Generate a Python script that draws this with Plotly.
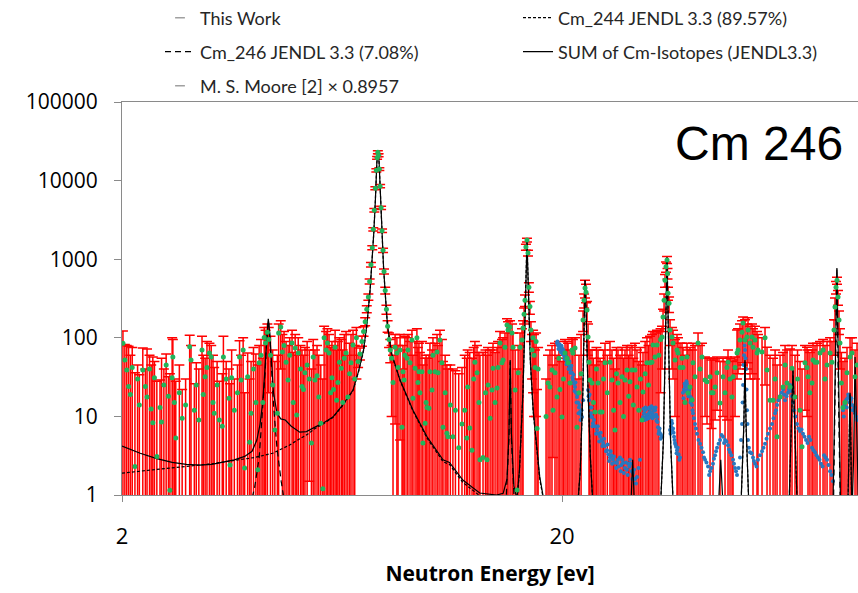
import math
import plotly.graph_objects as go

# ---------------- This Work (value, upper end of error bar, lower end; 0 = bar runs to axis) -------------
tw_energy = [
    2.01, 2.03, 2.05, 2.07, 2.09, 2.11, 2.14, 2.17, 2.19, 2.23,
    2.26, 2.28, 2.31, 2.33, 2.35, 2.37, 2.40, 2.44, 2.46, 2.49,
    2.52, 2.55, 2.57, 2.60, 2.61, 2.63, 2.65, 2.70, 2.74, 2.79,
    2.85, 2.87, 2.92, 2.95, 2.99, 3.04, 3.06, 3.09, 3.12, 3.16,
    3.19, 3.22, 3.24, 3.29, 3.33, 3.38, 3.40, 3.45, 3.50, 3.52,
    3.55, 3.60, 3.66, 3.70, 3.73, 3.77, 3.80, 3.86, 3.90, 3.93,
    3.98, 4.03, 4.07, 4.10, 4.14, 4.18, 4.21, 4.24,
    4.28, 4.31, 4.35, 4.40, 4.45, 4.51, 4.54, 4.59, 4.63, 4.67,
    4.72, 4.77, 4.81, 4.87, 4.90, 4.95, 4.99, 5.03, 5.09, 5.13,
    5.17, 5.21, 5.27, 5.33, 5.39, 5.44, 5.49, 5.55, 5.60, 5.66,
    5.72, 5.76, 5.82, 5.86, 5.91, 5.96, 6.00, 6.05, 6.10, 6.15,
    6.19, 6.24, 6.30, 6.35, 6.40, 6.46, 6.52, 6.58, 6.63, 6.70,
    6.76, 6.82,
    6.88, 6.95, 7.02, 7.08, 7.14, 7.20, 7.26, 7.31, 7.36, 7.41,
    7.45, 7.49, 7.53, 7.57, 7.60, 7.63, 7.66, 7.69, 7.72, 7.76,
    7.80, 7.84, 7.88, 7.93, 7.98, 8.03, 8.09, 8.14, 8.20,
    8.26, 8.35, 8.43, 8.48, 8.57, 8.66, 8.70, 8.75, 8.79, 8.89,
    8.93, 9.03, 9.12, 9.17, 9.27, 9.36, 9.41, 9.46, 9.51, 9.61,
    9.66, 9.77, 9.82, 9.87, 9.97, 10.02, 10.13, 10.18, 10.29, 10.40,
    10.45, 10.56, 10.67, 10.73, 10.85, 10.95, 11.01, 11.15, 11.30, 11.45,
    11.65, 11.85, 12.02, 12.15, 12.21, 12.34, 12.49, 12.60, 12.68, 12.82,
    12.95, 13.02, 13.23, 13.40, 13.51, 13.58, 13.73, 13.87, 13.94, 14.09,
    14.24, 14.31, 14.46, 14.61, 14.69, 14.84, 15.00, 15.08, 15.24, 15.40,
    15.48, 15.65, 15.81, 15.90, 16.06, 16.22, 16.31,
    16.40, 16.48, 16.56, 16.65, 16.74, 16.82, 16.91, 17.00, 17.10, 17.19,
    17.28, 17.37, 17.46, 17.55, 17.65,
    18.40, 18.59, 18.78, 18.98, 19.08, 19.28, 19.48, 19.68, 19.79, 20.00,
    20.15, 20.32, 20.53, 20.64, 20.85, 21.07, 21.18, 21.41, 21.63, 21.86,
    22.10,
    22.33, 22.45, 22.56, 22.68, 22.80, 22.92, 23.04, 23.16, 23.40,
    23.58, 23.77, 23.95, 24.15, 24.41, 24.66, 24.85, 25.05, 25.35, 25.71,
    25.98, 26.20, 26.39, 26.60, 26.81, 27.10, 27.38, 27.60, 27.81, 28.10,
    28.35, 28.55, 28.85, 29.05, 29.30, 29.61, 29.90, 30.15, 30.40, 30.56,
    30.90, 31.20, 31.45, 31.70, 32.03, 32.20, 32.54, 32.88, 33.20, 33.50,
    33.76, 33.94,
    34.12, 34.29, 34.47, 34.65, 34.74, 34.83, 35.02, 35.20, 35.57, 35.76,
    36.13, 36.51, 36.70, 37.09,
    37.48, 37.67, 38.07, 38.47, 38.67, 39.08, 39.50, 39.70, 40.12, 40.76,
    41.19, 41.62, 42.28, 42.72, 43.40, 43.74, 44.08, 44.55, 45.02, 45.73,
    46.45, 46.94, 47.43, 47.68, 48.18, 48.69, 48.95, 49.46, 49.98, 50.25,
    50.77, 51.31, 51.58, 52.12, 52.67, 52.94, 53.50, 54.06, 54.34, 54.91,
    55.49, 55.78, 56.97, 57.87, 58.48, 59.40, 60.35, 61.00, 61.63, 62.60,
    63.59, 64.26, 64.93, 65.96, 66.65, 67.70, 68.60, 69.50, 70.23, 71.34,
    72.09, 72.47, 73.20, 74.00, 74.39, 75.17, 75.96, 77.17, 78.40, 79.20,
    80.06, 81.33, 82.16,
    83.03, 83.46, 83.90, 84.34, 84.78, 85.23, 85.67, 86.30, 87.03, 87.94,
    88.87, 90.30, 91.23, 92.69, 93.66,
]
tw_value = [
    85, 52, 39, 24, 19, 42, 2.3, 30, 14, 39,
    24, 17.6, 40, 12.4, 8.3, 31, 3.1, 13, 8.5, 25,
    45, 18, 1.15, 31, 57, 15, 5.3, 20, 9.5, 14,
    77, 52, 12, 25, 9, 70, 19, 32, 42, 64,
    57, 15, 11, 25, 9, 7.5, 57, 30, 17, 2.4,
    31, 12, 20, 57, 29, 70, 2.2, 32, 4.7, 11,
    40, 15, 2.1, 48, 60, 15, 101, 86,
    118, 95, 60, 25, 6.7, 11, 115, 137, 66, 80,
    49, 29, 60, 86, 15, 74, 10.4, 64, 40, 24,
    22, 36, 45, 30, 4.6, 57, 29, 33, 17.6, 8.2,
    1.2, 100, 70, 86, 64, 20, 31, 22, 76, 16,
    27, 49, 41, 15, 55, 64, 17.6, 35, 48, 81,
    30, 100,
    50, 62, 90, 120, 160, 230, 330, 520, 850, 1400,
    2400, 4200, 8000, 13500, 19500, 23000, 21000, 14000, 8500, 4500,
    2300, 1300, 700, 400, 230, 140, 95, 70, 55,
    27, 76, 64, 42, 70, 7.3, 37, 29, 60, 55,
    70, 48, 94, 17, 41, 100, 27, 37, 20, 37,
    4.6, 8.2, 15, 13, 12.7, 37, 21.7, 60, 37, 66,
    36, 94, 48, 7.3, 20, 6.1, 5.5, 14, 5.5, 12,
    4, 8, 12, 5.3, 23.6, 7.1, 3.7, 30, 49, 36,
    15, 2.8, 3.0, 20, 2.8, 25, 9.5, 21.7, 41, 15,
    23, 42, 86, 48, 52, 76, 145, 126, 137, 115,
    76, 21.7, 1.16, 36, 76, 94, 133,
    200, 300, 1430, 1750, 1200, 440, 250, 126, 70, 100,
    60, 42, 90, 7, 40,
    10, 26.6, 23.6, 39, 12, 36, 17.6, 55, 22, 9.8,
    30, 64, 55, 48, 26.6, 70, 64, 74, 7.3, 20,
    35,
    168, 300, 430, 380, 226, 102, 49, 29, 26.6,
    15, 11.4, 40, 26.6, 11.4, 11.4, 30, 48, 20, 49,
    29, 12, 6.7, 35, 26.6, 15, 32, 10, 29, 39,
    18, 27.5, 39, 14, 39, 23.6, 12, 30, 9, 20.5,
    35, 48, 25, 48, 49, 81, 57, 81, 60, 95,
    102, 184,
    300, 540, 800, 980, 660, 370, 275, 126, 102, 86,
    52, 70, 64, 42,
    55, 42, 15, 57, 19.8, 23.6, 16.2, 48, 32, 86,
    40, 57, 29, 27.5, 32, 20, 20, 23.6, 36, 14.8,
    32, 20, 42, 49, 30, 17.6, 32, 42, 64, 70,
    94, 118, 154, 94, 102, 126, 86, 102, 76, 94,
    64, 70, 66, 100, 39, 16, 16, 30, 5.5, 17.6,
    23.6, 45, 26.6, 23.6, 41, 17.6, 30, 12, 4.1, 48,
    42, 32, 20, 26.6, 52, 49, 49, 64, 70, 30,
    45, 64, 49,
    126, 246, 440, 540, 330, 168, 86, 26.6, 13, 15,
    36, 57, 64, 32, 45,
]
tw_upper = [
    122, 82, 80, 78, 60, 75, 36, 45, 34, 74,
    40, 72, 60, 45, 57, 50, 28, 29, 55, 40,
    62, 32, 35, 100, 95, 30, 28, 45, 22, 30,
    108, 80, 26, 48, 40, 105, 60, 55, 90, 85,
    80, 60, 42, 50, 28, 35, 105, 50, 40, 26,
    70, 30, 45, 92, 60, 100, 20, 64, 30, 50,
    75, 62, 45, 80, 95, 55, 135, 125,
    150, 135, 105, 70, 50, 60, 150, 165, 110, 120,
    90, 80, 100, 125, 65, 110, 60, 100, 80, 70,
    60, 75, 90, 70, 40, 95, 70, 80, 60, 45,
    30, 140, 120, 130, 110, 75, 90, 80, 125, 70,
    90, 100, 95, 70, 110, 120, 60, 85, 110, 125,
    80, 135,
    60, 74, 105, 138, 180, 255, 360, 560, 910, 1480,
    2520, 4400, 8350, 14100, 20300, 24000, 21900, 14600, 8900, 4700,
    2420, 1380, 750, 440, 260, 165, 115, 95, 80,
    60, 110, 100, 80, 110, 40, 80, 70, 105, 100,
    110, 90, 125, 60, 90, 130, 75, 85, 65, 90,
    45, 55, 60, 55, 60, 85, 70, 100, 85, 110,
    80, 125, 95, 50, 60, 45, 40, 45, 40, 38,
    35, 42, 60, 55, 70, 65, 55, 75, 90, 80,
    65, 60, 65, 70, 60, 75, 70, 70, 85, 65,
    75, 90, 120, 95, 100, 115, 175, 160, 165, 150,
    115, 70, 40, 80, 115, 130, 165,
    240, 350, 1550, 1850, 1300, 500, 290, 160, 110, 125,
    110, 70, 115, 22, 75,
    30, 60, 70, 80, 45, 85, 60, 90, 55, 50,
    70, 95, 90, 85, 70, 100, 95, 100, 30, 60,
    110,
    220, 360, 540, 480, 290, 150, 90, 70, 70,
    55, 45, 75, 70, 55, 50, 70, 85, 60, 90,
    70, 55, 40, 75, 70, 60, 75, 55, 70, 80,
    60, 75, 80, 55, 85, 70, 50, 75, 45, 65,
    90, 100, 80, 105, 110, 120, 115, 125, 120, 130,
    140, 230,
    360, 640, 920, 1080, 760, 440, 330, 170, 135, 125,
    95, 110, 100, 85,
    85, 75, 60, 85, 70, 75, 70, 85, 80, 115,
    80, 85, 57, 55, 55, 52, 55, 52, 57, 50,
    55, 50, 57, 70, 55, 50, 52, 57, 126, 130,
    150, 165, 184, 170, 150, 180, 140, 150, 130, 140,
    120, 110, 100, 135, 76, 60, 55, 70, 45, 60,
    65, 80, 70, 72, 80, 60, 70, 50, 40, 80,
    76, 70, 65, 70, 85, 80, 85, 90, 95, 80,
    90, 100, 90,
    170, 320, 520, 590, 400, 220, 130, 65, 50, 55,
    75, 100, 100, 70, 85,
]
tw_lower = [
    0, 0, 0, 0, 0, 0, 0, 0, 0, 0,
    0, 0, 0, 0, 0, 0, 0, 0, 0, 0,
    0, 0, 0, 0, 0, 0, 0, 0, 0, 0,
    0, 0, 0, 0, 0, 0, 0, 0, 0, 0,
    0, 0, 0, 0, 0, 0, 0, 0, 0, 0,
    0, 0, 0, 0, 0, 0, 0, 0, 0, 0,
    0, 0, 0, 0, 0, 0, 0, 0,
    0, 20, 0, 0, 0, 0, 0, 40, 0, 0,
    0, 0, 0, 0, 0, 0, 0, 0, 0, 0,
    0, 0, 0, 1.5, 0, 0, 0, 0, 0, 0,
    0, 0, 0, 0, 0, 0, 0, 0, 0, 0,
    0, 0, 0, 0, 0, 0, 0, 0, 0, 0,
    0, 30,
    42, 52, 78, 105, 142, 208, 300, 485, 795, 1320,
    2280, 4000, 7650, 12900, 18700, 22000, 20100, 13400, 8100, 4300,
    2180, 1220, 650, 360, 200, 118, 75, 48, 10,
    0, 8, 0, 0, 5, 0, 0, 0, 0, 0,
    0, 0, 0, 0, 0, 0, 0, 0, 0, 0,
    0, 0, 0, 0, 0, 0, 0, 0, 0, 0,
    0, 0, 0, 0, 0, 0, 0, 0, 0, 0,
    0, 0, 0, 0, 0, 0, 0, 0, 0, 0,
    0, 0, 0, 0, 0, 0, 0, 0, 0, 0,
    0, 0, 0, 0, 0, 0, 0, 0, 0, 0,
    0, 0, 0, 0, 0, 0, 0,
    150, 250, 1300, 1650, 1100, 380, 200, 90, 30, 20,
    10, 0, 10, 0, 0,
    0, 0, 0, 0, 3, 0, 0, 0, 0, 0,
    0, 0, 0, 0, 0, 0, 0, 0, 0, 0,
    0,
    120, 240, 320, 280, 160, 60, 0, 0, 0,
    0, 0, 0, 0, 0, 0, 0, 0, 0, 0,
    0, 0, 0, 0, 0, 0, 0, 0, 0, 0,
    0, 0, 0, 0, 0, 0, 0, 0, 0, 0,
    0, 0, 0, 0, 0, 0, 0, 0, 0, 20,
    40, 120,
    220, 440, 680, 880, 560, 300, 210, 80, 40, 30,
    10, 0, 0, 0,
    0, 0, 0, 0, 0, 0, 0, 0, 0, 0,
    0, 0, 10, 8, 0, 7, 0, 9, 12, 0,
    10, 0, 9, 0, 0, 0, 0, 10, 30, 35,
    40, 48, 45, 35, 40, 48, 30, 35, 0, 30,
    0, 0, 0, 25, 0, 0, 0, 0, 0, 0,
    0, 0, 0, 0, 0, 0, 0, 0, 0, 12,
    10, 0, 0, 0, 0, 0, 0, 0, 0, 0,
    0, 0, 0,
    60, 170, 360, 480, 260, 110, 40, 0, 0, 0,
    0, 0, 0, 0, 0,
]

# ---------------- M. S. Moore [2] x 0.8957 ----------------
moore_energy = [
    19.48, 19.58, 19.68, 19.79, 19.90, 20.00, 20.11, 20.20, 20.32, 20.43,
    20.53, 20.64, 20.75, 20.85, 20.96, 21.07, 21.18, 21.30, 21.41, 21.52,
    21.63, 21.75, 21.86, 21.98, 22.10, 22.21, 22.33, 22.92, 23.04, 23.16,
    23.28, 23.40, 23.52, 23.77, 24.03, 24.22, 24.41, 24.60, 24.80, 25.05,
    25.32, 25.50, 25.71, 25.90, 26.12, 26.40, 26.67, 26.90, 27.09, 27.30,
    27.52, 27.80, 28.10, 28.30, 28.55, 28.80, 29.00, 29.30, 29.61, 29.85,
    30.08, 30.56, 30.72, 30.88, 31.04, 31.20, 31.36, 31.53, 31.70, 31.86,
    32.03, 32.20, 32.37, 32.54, 32.71, 32.88, 33.05, 33.23, 33.41, 33.58,
    33.76, 35.20, 35.38, 35.57, 35.76, 35.95, 36.13, 36.32, 36.51, 36.80,
    37.09, 37.67, 37.87, 38.07, 38.27, 38.47, 38.67, 38.87, 39.08, 39.29,
    39.50, 39.70, 40.12, 40.54, 41.19, 41.84, 42.28, 42.95, 43.40, 44.08,
    44.55, 45.02, 45.73, 46.45, 46.94, 47.68, 48.18, 48.95, 49.46, 49.98,
    50.77, 51.31, 51.58, 51.85, 52.12, 52.40, 52.67, 52.94, 53.50, 54.34,
    54.91, 55.78, 56.97, 57.87, 58.79, 60.03, 60.98, 61.63, 62.60, 63.59,
    64.26, 65.28, 65.96, 66.65, 67.35, 68.42, 69.50, 70.60, 71.72, 72.85,
    74.00, 75.17, 76.36, 77.57, 78.81, 80.06, 81.33, 82.59, 87.03, 87.70,
    88.41, 89.10, 89.81, 90.50, 91.23, 91.95, 92.69, 93.66,
    19.53, 19.63, 19.74, 19.85, 19.95, 20.05, 20.15, 20.26, 20.37, 20.48,
    20.58, 20.70, 20.80, 20.90, 21.01, 21.12, 21.24, 21.35, 21.46, 21.58,
    21.69, 21.80, 21.92, 22.04, 22.15, 22.98, 23.10, 23.22, 23.34, 23.46,
    23.65, 23.90, 24.12, 24.30, 24.50, 24.70, 24.92, 25.18, 25.40, 25.60,
    25.80, 26.00, 26.25, 26.55, 26.80, 27.20, 27.40, 27.65, 27.95, 28.20,
    28.45, 28.70, 28.90, 29.15, 29.45, 30.64, 30.80, 30.96, 31.12, 31.28,
    31.45, 31.62, 31.78, 31.95, 32.12, 32.28, 32.45, 32.62, 32.80, 32.97,
    33.14, 33.32, 33.50, 35.29, 35.48, 35.66, 35.86, 36.04, 36.22, 36.42,
    36.65, 36.95, 37.77, 37.97, 38.17, 38.37, 38.57, 38.77, 38.97, 39.18,
    39.40, 39.60, 39.90, 40.33, 40.86, 41.50, 42.06, 42.60, 43.18, 43.74,
    44.30, 44.78, 45.38, 46.10, 46.70, 47.30, 47.93, 48.56, 49.20, 49.72,
    50.38, 51.05, 51.45, 51.72, 51.98, 52.26, 52.53, 52.80, 53.20, 53.92,
    54.62, 55.35, 56.38, 57.42, 58.33, 59.41, 60.50, 61.30, 62.10, 63.10,
    63.92, 64.77, 65.62, 66.30, 67.00, 67.88, 68.96, 70.05, 71.16, 72.28,
    73.42, 74.58, 75.76, 76.96, 78.19, 79.43, 80.69, 81.96, 87.36, 88.06,
    88.75, 89.45, 90.16, 90.86, 91.59, 92.32, 93.17,
]
moore_value = [
    86, 81, 78, 76, 70, 74, 66, 60, 57, 52,
    49, 48, 45, 42, 40, 36, 29, 26, 23.6, 20,
    17.6, 15, 13, 11.4, 10.5, 9.8, 16, 21.7, 16, 13,
    11, 9.8, 8.2, 7.5, 6.7, 6, 5.5, 5, 4.6, 4.2,
    3.7, 3.3, 3.0, 3.2, 2.8, 2.6, 2.55, 2.3, 3.0, 2.4,
    2.55, 2.2, 2.1, 2.5, 2.8, 2.0, 1.9, 1.6, 1.7, 2.2,
    2.8, 9.8, 11, 12, 10, 10.4, 9.8, 11, 11.4, 12.5,
    11, 10.4, 11.8, 12, 10.5, 9.8, 7.3, 6.5, 6.1, 5.8,
    5.5, 6.7, 7.5, 8.2, 7, 5.5, 4.6, 4.1, 3.7, 3.3,
    3.0, 20, 22, 24, 25, 26, 22, 20, 18, 16,
    14, 11, 8, 6, 4.5, 3.5, 2.8, 2.3, 2.0, 2.5,
    3.2, 4.0, 5.0, 5.5, 5.0, 4.3, 3.5, 2.8, 2.2, 1.8,
    3, 8, 25, 60, 70, 40, 12, 5, 3.5, 3,
    2.5, 2.8, 3.6, 4.5, 6, 8, 11, 14, 18, 22,
    16, 20, 25, 18, 12, 8, 6.5, 6, 5, 5.5,
    4, 3.5, 3, 2.5, 3.2, 2.8, 2, 1.5, 12, 14,
    16, 17, 18, 16, 14, 12, 11, 9,
    90, 72, 83, 66, 79, 62, 70, 54, 60, 46,
    55, 40, 50, 36, 44, 31, 34, 21, 27, 15,
    19, 11, 14, 9, 12, 18, 19, 10, 13, 7.5,
    9, 6, 7.5, 4.8, 6.2, 4.2, 5.2, 3.6, 4.4, 2.7,
    3.6, 2.5, 3.1, 2.2, 2.8, 2.0, 2.8, 1.9, 2.6, 1.8,
    2.3, 2.5, 1.6, 2.1, 1.4, 12.5, 9, 13, 9.2, 12.5,
    9.5, 13, 10, 13.5, 9.5, 12.8, 10, 13, 8.8, 8.5,
    6, 7, 5.2, 6, 8.8, 6.5, 6.2, 5, 4.4, 3.4,
    4, 2.8, 17, 26, 21, 28, 24, 18, 22, 15,
    17, 12, 9.5, 7, 5, 4, 3, 2.6, 1.8, 2.2,
    2.9, 3.6, 4.5, 5.8, 4.6, 4.8, 3.8, 3.2, 2.5, 2.0,
    2.2, 5, 15, 45, 80, 55, 22, 8, 4, 3.4,
    2.7, 2.3, 3.2, 4, 5.2, 7, 9.5, 12, 16, 20,
    19, 18, 22, 21, 15, 10, 7, 6.8, 5.5, 4.6,
    5, 3.7, 3.2, 2.8, 2.3, 3, 2.4, 1.8, 10, 15,
    13, 19, 15, 17, 12, 13, 10,
]

# ---------------- JENDL-3.3 curves ----------------
sum_energy = [
    2.0, 2.2, 2.4, 2.6, 2.8, 3.0, 3.2, 3.4, 3.6, 3.8,
    3.95, 4.05, 4.12, 4.18, 4.23, 4.27, 4.30, 4.33, 4.37, 4.42,
    4.50, 4.59, 4.70, 4.85, 5.07, 5.25, 5.49, 5.75, 6.03, 6.35,
    6.70, 6.90, 7.08, 7.21, 7.33, 7.40, 7.47, 7.53, 7.59, 7.64,
    7.68, 7.72, 7.78, 7.86, 7.95, 8.02, 8.19, 8.57, 9.17, 9.87,
    10.73, 10.95, 11.1, 11.9, 13.0, 14.2, 14.7, 15.0, 15.15, 15.25,
    15.35, 15.55, 15.8, 16.0, 16.3, 16.5, 16.65, 16.8, 16.95, 17.2,
    17.5, 17.8, 18.1, 18.5, 21.6, 22.0, 22.3, 22.45, 22.56, 22.7,
    22.9, 23.2, 23.6, 28.6, 28.95, 29.3, 33.4, 34.0, 34.4, 34.65,
    34.9, 35.3, 35.9, 45.2, 45.9, 46.6, 50.9, 51.8, 52.1, 52.4,
    53.3, 65.5, 66.4, 67.0, 67.6, 68.6, 82.5, 83.6, 84.3, 85.0,
    86.0, 89.2, 90.3, 91.2, 92.0, 92.7, 93.5, 94.5,
]
sum_value = [
    4.2, 3.4, 2.9, 2.6, 2.45, 2.4, 2.45, 2.6, 2.8, 3.1,
    3.6, 5, 8, 16, 40, 110, 174, 120, 50, 20,
    11, 9.3, 9.0, 7.5, 6.3, 6.4, 7.3, 8.3, 9.8, 14,
    21.6, 38, 70, 154, 420, 900, 2200, 5500, 17000, 23000,
    17000, 8500, 2800, 800, 300, 150, 64, 29, 12, 5.5,
    2.8, 2.7, 2.6, 1.55, 1.06, 1.0, 1.05, 1.6, 6, 52,
    6, 1.3, 0.9, 2, 20, 200, 1750, 300, 50, 12,
    4, 1.7, 1.0, 0.5, 0.5, 2, 20, 200, 540, 200,
    25, 3, 0.5, 0.5, 2.8, 0.5, 0.5, 5, 120, 1060,
    120, 5, 0.5, 0.5, 2.8, 0.5, 0.5, 8, 52, 8,
    0.5, 0.5, 8, 42, 8, 0.5, 0.5, 40, 770, 40,
    0.5, 0.5, 20, 0.5, 3, 57, 3, 0.5,
]
cm244_energy = [
    2.0, 2.4, 2.8, 3.2, 3.6, 4.0, 4.4, 4.8, 5.07, 5.3,
    5.49, 5.75, 6.03, 6.35, 6.70, 6.90, 7.08, 7.21, 7.33, 7.40,
    7.47, 7.53, 7.59, 7.64, 7.68, 7.72, 7.78, 7.86, 7.95, 8.02,
    8.19, 8.57, 9.17, 9.87, 10.73, 10.95, 11.1, 11.9, 13.0, 14.2,
    15.0, 15.8, 16.0, 16.3, 16.5, 16.65, 16.8, 16.95, 17.2, 17.5,
    17.8, 18.1, 18.5, 21.6, 22.0, 22.3, 22.45, 22.56, 22.7, 22.9,
    23.2, 23.6, 33.4, 34.0, 34.4, 34.65, 34.9, 35.3, 35.9, 50.9,
    51.8, 52.1, 52.4, 53.3, 65.5, 66.4, 67.0, 67.6, 68.6, 89.2,
    90.3, 91.2,
]
cm244_value = [
    1.9, 2.1, 2.3, 2.5, 2.75, 3.0, 3.4, 4.3, 5.2, 6.0,
    7.0, 8.1, 9.7, 13.8, 21.3, 37.5, 69, 152, 415, 890,
    2190, 5480, 16980, 22980, 16980, 8490, 2790, 795, 297, 148,
    63, 28.5, 11.7, 5.3, 2.65, 2.55, 2.45, 1.45, 0.98, 0.9,
    0.85, 0.85, 1.9, 19.5, 198, 1745, 298, 49, 11.5, 3.8,
    1.6, 0.95, 0.5, 0.5, 2, 20, 200, 540, 200, 25,
    3, 0.5, 0.5, 5, 118, 1050, 118, 5, 0.5, 0.5,
    7.5, 50, 7.5, 0.5, 0.5, 7.5, 40, 7.5, 0.5, 0.5,
    19, 0.5,
]
cm246_energy = [3.9, 4.0, 4.1, 4.18, 4.23, 4.27, 4.30, 4.33, 4.37, 4.42, 4.5, 4.6, 4.7,
                14.9, 15.15, 15.25, 15.35, 15.6, 82.8, 83.8, 84.3, 84.8, 85.8]
cm246_value = [0.7, 1.2, 3, 12, 37, 107, 170, 115, 45, 14, 4, 1.5, 0.7,
               0.7, 5, 50, 5, 0.7, 0.7, 40, 760, 40, 0.7]

y_tick_values = [1, 10, 100, 1000, 10000, 100000]
y_tick_labels = ["1", "10", "100", "1000", "10000", "100000"]
x_tick_values = [2, 20]
x_tick_labels = ["2", "20"]

assert len(tw_energy) == len(tw_value) == len(tw_upper) == len(tw_lower), (
    len(tw_energy), len(tw_value), len(tw_upper), len(tw_lower))
assert len(moore_energy) == len(moore_value), (len(moore_energy), len(moore_value))
assert len(sum_energy) == len(sum_value), (len(sum_energy), len(sum_value))
assert len(cm244_energy) == len(cm244_value), (len(cm244_energy), len(cm244_value))
assert len(cm246_energy) == len(cm246_value)

err_plus = [u - v for u, v in zip(tw_upper, tw_value)]
err_minus = [v - lo for v, lo in zip(tw_value, tw_lower)]

FONT = "Lato"
TICKFONT = "Open Sans"
GREEN = "#22B45A"
RED = "#FF0000"
BLUE = "#2878C0"
AXIS = "#8A8A8A"

fig = go.Figure()

# legend-only entry for This Work (row 1, column 1)
fig.add_trace(go.Scatter(
    x=[None], y=[None], mode="markers", name="This Work", legend="legend",
    marker=dict(symbol="line-ew", size=7, line=dict(width=1.5, color="#A0A0A0")),
))
# red error bars of This Work
fig.add_trace(go.Scatter(
    x=tw_energy, y=tw_value, mode="markers", showlegend=False, hoverinfo="skip",
    marker=dict(size=2, opacity=0),
    error_y=dict(type="data", symmetric=False, array=err_plus, arrayminus=err_minus,
                 color=RED, thickness=1.5, width=5),
))
# Moore data
fig.add_trace(go.Scatter(
    x=moore_energy, y=moore_value, mode="markers", showlegend=False,
    marker=dict(size=4, color=BLUE),
))
# JENDL curves
fig.add_trace(go.Scatter(
    x=cm246_energy, y=cm246_value, mode="lines", name="Cm_246 JENDL 3.3 (7.08%)",
    legend="legend2", line=dict(color="black", width=1.2, dash="6px,4px"),
))
fig.add_trace(go.Scatter(
    x=cm244_energy, y=cm244_value, mode="lines", name="Cm_244 JENDL 3.3 (89.57%)",
    legend="legend", line=dict(color="black", width=1.2, dash="3px,2px"),
))
fig.add_trace(go.Scatter(
    x=sum_energy, y=sum_value, mode="lines", name="SUM of Cm-Isotopes (JENDL3.3)",
    legend="legend2", line=dict(color="black", width=1.2),
))
# green markers of This Work
fig.add_trace(go.Scatter(
    x=tw_energy, y=tw_value, mode="markers", showlegend=False,
    marker=dict(size=5, color=GREEN),
))
# legend-only entry for Moore (row 3)
fig.add_trace(go.Scatter(
    x=[None], y=[None], mode="markers", name="M. S. Moore [2] × 0.8957", legend="legend3",
    marker=dict(symbol="line-ew", size=7, line=dict(width=1.5, color="#A0A0A0")),
))

W, H = 858, 593
left, right, top, bottom = 122, 0, 102, 98
x0 = math.log10(2)
x1 = x0 + (W - left - right) / 440.0

legend_common = dict(
    orientation="h", xref="container", yref="container", xanchor="left", yanchor="middle",
    entrywidth=313, entrywidthmode="pixels", bgcolor="rgba(0,0,0,0)",
    font=dict(family=FONT, size=18, color="#262626"), itemwidth=30,
)

fig.update_layout(
    width=W, height=H,
    margin=dict(l=left, r=right, t=top, b=bottom, autoexpand=False),
    paper_bgcolor="white", plot_bgcolor="white",
    font=dict(family=FONT, color="black"),
    legend=dict(legend_common, x=160 / W, y=1 - 18 / H),
    legend2=dict(legend_common, x=160 / W, y=1 - 52 / H),
    legend3=dict(legend_common, x=160 / W, y=1 - 86 / H),
    xaxis=dict(
        type="log", range=[x0, x1], tickvals=x_tick_values, ticktext=x_tick_labels,
        ticks="outside", ticklen=6, tickcolor=AXIS, showline=True, linecolor=AXIS,
        linewidth=1, mirror=True, showgrid=False, zeroline=False,
        tickfont=dict(family=TICKFONT, size=22, color="black"), ticklabelstandoff=16,
        title=dict(text="Neutron Energy [ev]", standoff=16,
                   font=dict(family=TICKFONT, size=21, color="black", weight="bold")),
    ),
    yaxis=dict(
        type="log", range=[0, 5], tickvals=y_tick_values, ticktext=y_tick_labels,
        ticks="outside", ticklen=7, tickcolor=AXIS, showline=True, linecolor=AXIS,
        linewidth=1, showgrid=False, zeroline=False,
        tickfont=dict(family=TICKFONT, size=21, color="black"), ticklabelstandoff=12,
    ),
    annotations=[dict(
        text="Cm 246", xref="paper", yref="paper", x=(845 - left) / (W - left), y=(495 - 143) / 393,
        xanchor="right", yanchor="middle", showarrow=False,
        font=dict(family="Liberation Sans", size=48, color="black"),
    )],
)

fig.write_html("out.html")
